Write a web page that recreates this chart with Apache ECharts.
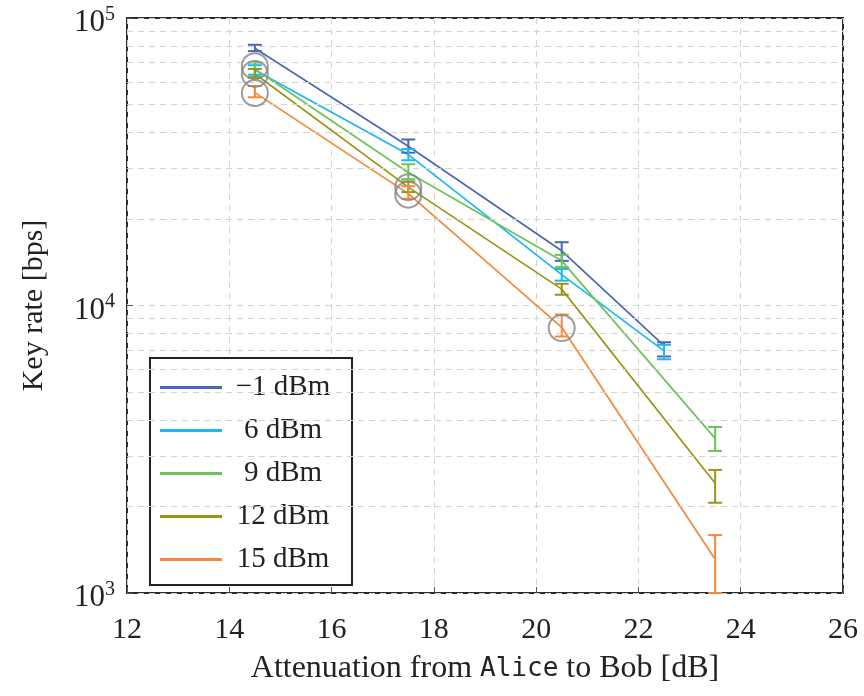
<!DOCTYPE html>
<html><head><meta charset="utf-8">
<script src="https://cdn.jsdelivr.net/npm/echarts@6/dist/echarts.min.js"></script>
<style>html,body{margin:0;padding:0;background:#fff}#c{width:864px;height:696px}</style>
</head><body><div id="c"></div>
<script>
const seriesNames = ['\u22121 dBm', '6 dBm', '9 dBm', '12 dBm', '15 dBm'];
const colors = ['#4a68b2', '#1eb6f0', '#6cc35a', '#9a9516', '#f5873a'];
// x positions (attenuation, dB)
const xM1 = [14.5, 17.5, 20.5, 22.5];
const yM1 = [78500, 35800, 15500, 7250];
const loM1 = [76700, 34000, 14300, 6650];
const hiM1 = [80700, 37800, 16600, 7450];

const x6 = [14.5, 17.5, 20.5, 22.5];
const y6 = [66000, 33500, 12800, 6950];
const lo6 = [63500, 32000, 12200, 6500];
const hi6 = [68500, 35000, 13400, 7300];

const x9 = [14.5, 17.5, 20.5, 23.5];
const y9 = [66500, 29000, 14300, 3450];
const lo9 = [62500, 27500, 13600, 3120];
const hi9 = [70000, 31000, 15000, 3780];

const x12 = [14.5, 17.5, 20.5, 23.5];
const y12 = [64000, 25800, 11400, 2410];
const lo12 = [62000, 24800, 10900, 2060];
const hi12 = [66500, 27000, 11900, 2680];

const x15 = [14.5, 17.5, 20.5, 23.5];
const y15 = [55000, 24500, 8400, 1310];
const lo15 = [53000, 23500, 7800, 1000];
const hi15 = [58000, 26000, 9300, 1590];

// highlighted (circled) points
const circleX = [14.5, 14.5, 14.5, 17.5, 17.5, 20.5];
const circleY = [68000, 63900, 54800, 25800, 24300, 8350];

// minor log grid values
const minorGrid = [2000,3000,4000,5000,6000,7000,8000,9000,20000,30000,40000,50000,60000,70000,80000,90000];

const allSets = [
  [xM1, yM1, loM1, hiM1],
  [x6, y6, lo6, hi6],
  [x9, y9, lo9, hi9],
  [x12, y12, lo12, hi12],
  [x15, y15, lo15, hi15]
];

const FONT = '"Liberation Serif", "DejaVu Serif", serif';
const chart = echarts.init(document.getElementById('c'));
const series = [];
allSets.forEach((s, i) => {
  const [xs, ys, lo, hi] = s;
  series.push({
    name: seriesNames[i], type: 'line', symbol: 'none', z: 3,
    lineStyle: { color: colors[i], width: 1.7 }, itemStyle: { color: colors[i] },
    data: xs.map((x, k) => [x, ys[k]])
  });
  series.push({
    type: 'custom', z: 4, silent: true,
    data: xs.map((x, k) => [x, lo[k], hi[k]]),
    renderItem: function (params, api) {
      const a = api.coord([api.value(0), api.value(2)]);
      const b = api.coord([api.value(0), api.value(1)]);
      const w = 7;
      const st = { stroke: colors[i], lineWidth: 2 };
      return { type: 'group', children: [
        { type: 'line', shape: { x1: a[0], y1: a[1], x2: b[0], y2: b[1] }, style: st },
        { type: 'line', shape: { x1: a[0] - w, y1: a[1], x2: a[0] + w, y2: a[1] }, style: st },
        { type: 'line', shape: { x1: b[0] - w, y1: b[1], x2: b[0] + w, y2: b[1] }, style: st }
      ]};
    }
  });
});
series.push({
  type: 'scatter', z: 5, silent: true, symbol: 'circle', symbolSize: 26,
  itemStyle: { color: 'rgba(0,0,0,0)', borderColor: '#858585', borderWidth: 2 },
  data: circleX.map((x, k) => [x, circleY[k]])
});
series.push({
  type: 'line', data: [], silent: true,
  markLine: { silent: true, symbol: 'none', label: { show: false },
    lineStyle: { color: '#d4d4d4', type: [6, 5], width: 1 },
    data: minorGrid.map(v => ({ yAxis: v })) }
});

chart.setOption({
  animation: false,
  backgroundColor: '#fff',
  grid: { left: 127, right: 21, top: 18, bottom: 103, show: true, borderColor: '#2b2b2b', borderWidth: 2, backgroundColor: 'transparent' },
  xAxis: {
    type: 'value', min: 12, max: 26, interval: 2,
    name: 'Attenuation from {m|Alice} to Bob [dB]', nameLocation: 'middle', nameGap: 60,
    nameTextStyle: { fontFamily: FONT, fontSize: 32, color: '#222',
      rich: { m: { fontFamily: '"DejaVu Sans Mono", "Liberation Mono", monospace', fontSize: 26, color: '#222' } } },
    axisLine: { show: false },
    axisTick: { show: true, inside: true, length: 6, lineStyle: { color: '#555' } },
    axisLabel: { fontFamily: FONT, fontSize: 30, color: '#222', margin: 22 },
    splitLine: { show: true, lineStyle: { color: '#d4d4d4', type: [6, 5], width: 1 } }
  },
  yAxis: {
    type: 'log', logBase: 10, min: 1000, max: 100000,
    name: 'Key rate [bps]', nameLocation: 'middle', nameGap: 78,
    nameTextStyle: { fontFamily: FONT, fontSize: 30, color: '#222' },
    axisLine: { show: false },
    axisTick: { show: true, inside: true, length: 6, lineStyle: { color: '#555' } },
    axisLabel: { fontFamily: FONT, color: '#222', margin: 12,
      formatter: function (v) { const e = Math.round(Math.log10(v)); return '{b|10}{s|' + e + '}'; },
      rich: { b: { fontFamily: FONT, fontSize: 31, color: '#222', padding: [10, 0, 0, 0] },
              s: { fontFamily: FONT, fontSize: 20, color: '#222', verticalAlign: 'bottom', padding: [0, 0, 14, 0] } } },
    splitLine: { show: true, lineStyle: { color: '#d4d4d4', type: [6, 5], width: 1 } }
  },
  legend: {
    data: seriesNames, orient: 'vertical', left: 150, top: 358,
    backgroundColor: '#fff', borderColor: '#222', borderWidth: 2, borderRadius: 0,
    padding: [14, 13, 10, 10], itemGap: 12, itemWidth: 62, itemHeight: 3,
    icon: 'rect',
    formatter: function (n) { return '{a|' + n + '}'; },
    textStyle: { fontFamily: FONT, fontSize: 29, color: '#222', lineHeight: 26,
      rich: { a: { fontFamily: FONT, fontSize: 29, color: '#222', width: 112, align: 'center', lineHeight: 31 } } }
  },
  series: series
});
</script></body></html>
